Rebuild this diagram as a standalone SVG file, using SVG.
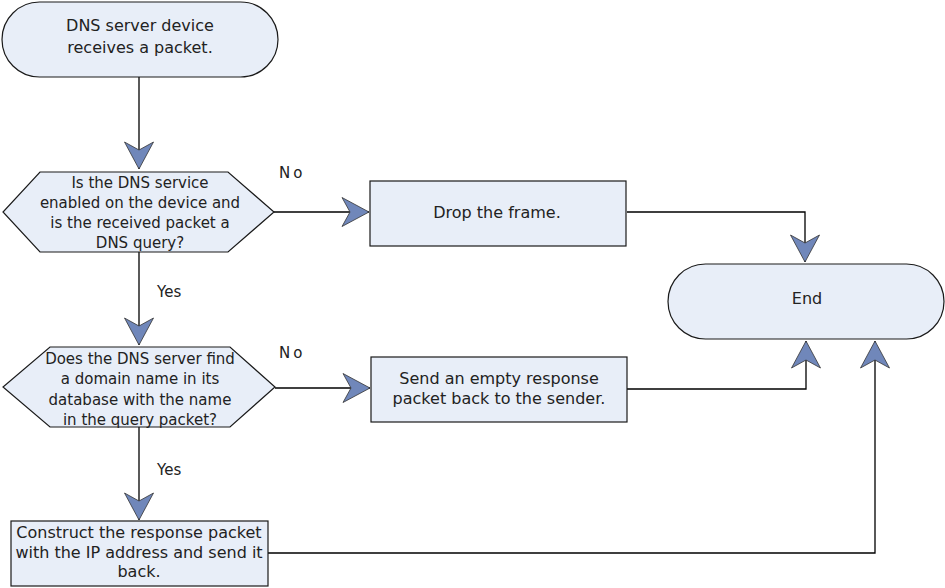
<svg xmlns="http://www.w3.org/2000/svg" width="945" height="588" viewBox="0 0 945 588">
<style>
.shape{fill:#e8eef8;stroke:#1a1a1a;stroke-width:1.2}
.t{font-family:"DejaVu Sans",Verdana,sans-serif;font-size:16px;fill:#222;text-anchor:middle}
.th{font-family:"DejaVu Sans",Verdana,sans-serif;font-size:15px;fill:#222;text-anchor:middle}
.lbl{font-family:"DejaVu Sans",Verdana,sans-serif;font-size:15px;fill:#222}
.c{fill:none;stroke:#000;stroke-width:1.3}
</style>
<defs>
<marker id="ah" markerUnits="userSpaceOnUse" markerWidth="30" markerHeight="32" viewBox="-28 -16 30 32" refX="0" refY="0" orient="auto">
<polygon points="0,0 -27,-14.5 -19,0 -27,14.5" fill="#7087ba" stroke="#333" stroke-width="0.8"/>
</marker>
</defs>
<rect width="945" height="588" fill="#fff"/>
<g id="connectors">
<path class="c" d="M139,77 V169" marker-end="url(#ah)"/>
<path class="c" d="M139,252 V345" marker-end="url(#ah)"/>
<path class="c" d="M139,427 V520" marker-end="url(#ah)"/>
<path class="c" d="M274,212 H369" marker-end="url(#ah)"/>
<path class="c" d="M275,388 H370" marker-end="url(#ah)"/>
<path class="c" d="M627,212 H805 V262" marker-end="url(#ah)"/>
<path class="c" d="M627,389 H806 V341" marker-end="url(#ah)"/>
<path class="c" d="M268,553 H875 V341" marker-end="url(#ah)"/>
<text class="lbl" x="279" y="178" letter-spacing="3">No</text>
<text class="lbl" x="279" y="358" letter-spacing="3">No</text>
<text class="lbl" x="157" y="297">Yes</text>
<text class="lbl" x="157" y="475">Yes</text>
</g>
<g id="start">
<rect class="shape" x="2" y="2" width="276" height="75" rx="37.5" ry="37.5"/>
<text class="t" x="140" y="31">DNS server device</text>
<text class="t" x="140" y="53">receives a packet.</text>
</g>
<g id="decision1">
<polygon class="shape" points="40,172 228,172 274,212 228,252 40,252 3,212"/>
<text class="th" x="140" y="188">Is the DNS service</text>
<text class="th" x="140" y="208">enabled on the device and</text>
<text class="th" x="140" y="228">is the received packet a</text>
<text class="th" x="140" y="248">DNS query?</text>
</g>
<g id="drop">
<rect class="shape" x="370" y="181" width="256" height="65"/>
<text class="t" x="497" y="218">Drop the frame.</text>
</g>
<g id="end">
<rect class="shape" x="668" y="264" width="276" height="75" rx="37.5" ry="37.5"/>
<text class="t" x="807" y="304">End</text>
</g>
<g id="decision2">
<polygon class="shape" points="50,347 230,347 275,387 230,427 50,427 3,387"/>
<text class="th" x="140" y="364">Does the DNS server find</text>
<text class="th" x="140" y="384">a domain name in its</text>
<text class="th" x="140" y="405">database with the name</text>
<text class="th" x="140" y="425">in the query packet?</text>
</g>
<g id="empty">
<rect class="shape" x="371" y="357" width="256" height="65"/>
<text class="t" x="499" y="384">Send an empty response</text>
<text class="t" x="499" y="404">packet back to the sender.</text>
</g>
<g id="construct">
<rect class="shape" x="11" y="521" width="257" height="65"/>
<text class="t" x="139" y="538">Construct the response packet</text>
<text class="t" x="139" y="558">with the IP address and send it</text>
<text class="t" x="139" y="577">back.</text>
</g>
</svg>
